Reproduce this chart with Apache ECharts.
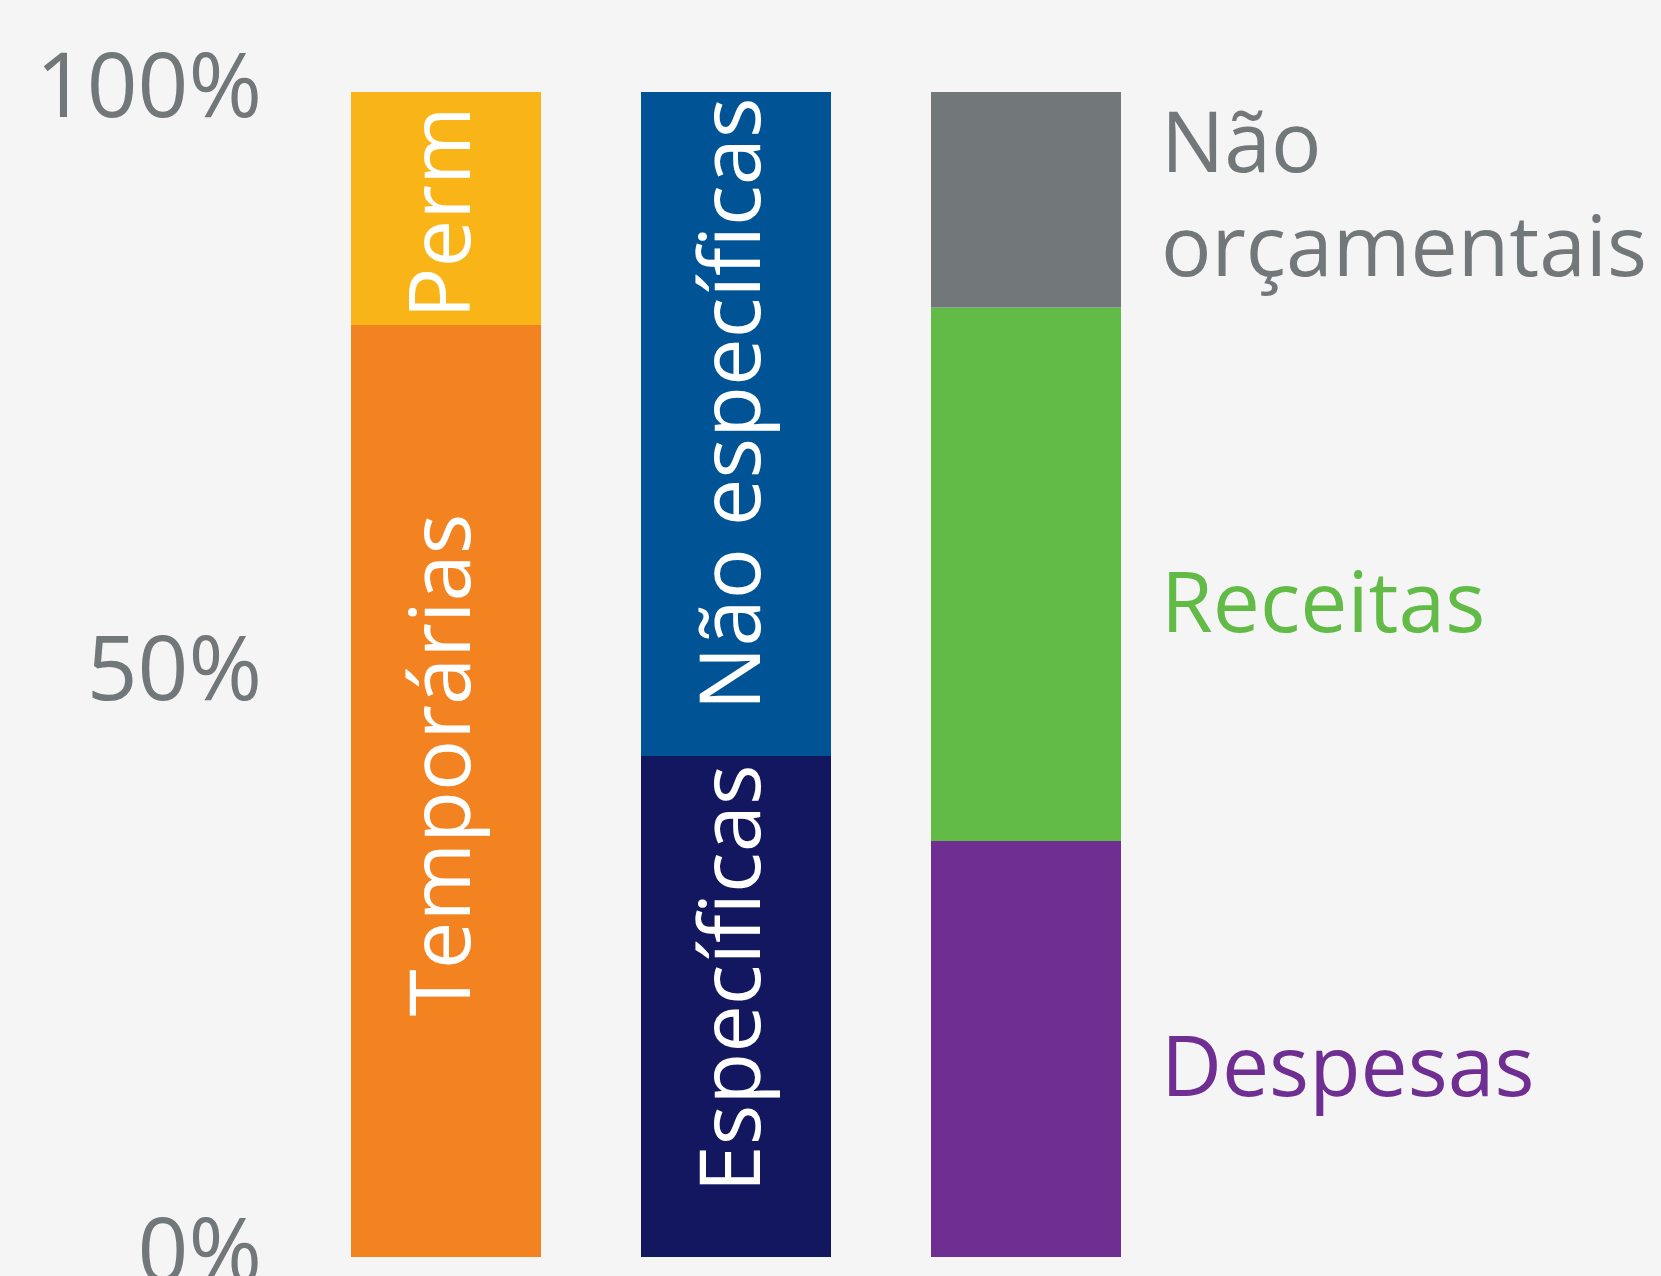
<!DOCTYPE html>
<html>
<head>
<meta charset="utf-8">
<script src="https://cdn.jsdelivr.net/npm/echarts@6/dist/echarts.min.js"></script>
<style>
html,body{margin:0;padding:0;background:#f5f5f5;}
#c{width:1661px;height:1276px;}
</style>
</head>
<body>
<div id="c"></div>
<script>
const categories = ['Duração', 'Afetação', 'Natureza'];
const yTicks = [0, 50, 100];
const temporarias = [80, null, null];
const perm = [20, null, null];
const especificas = [null, 43, null];
const naoEspecificas = [null, 57, null];
const despesas = [null, null, 35.7];
const receitas = [null, null, 45.8];
const naoOrcamentais = [null, null, 18.5];

const FONT = '"Open Sans", "Noto Sans", sans-serif';

function insideLabel(text, shift) {
  return {
    show: true, position: 'inside', rotate: 90, formatter: text,
    color: '#ffffff', fontSize: 85, fontFamily: FONT,
    align: 'center', verticalAlign: 'middle', offset: [shift, 0]
  };
}
function rightLabel(text, color, dy, lh) {
  return {
    show: true, position: 'right', distance: 40, formatter: text,
    color: color, fontSize: 84, fontFamily: FONT, lineHeight: lh || 104,
    align: 'left', verticalAlign: 'middle', offset: [0, dy]
  };
}

const option = {
  backgroundColor: '#f5f5f5',
  animation: false,
  grid: { left: 301, width: 870, top: 92, height: 1165, outerBoundsMode: 'none', containLabel: false },
  xAxis: { type: 'category', data: categories, show: false },
  yAxis: {
    type: 'value', min: yTicks[0], max: yTicks[2], interval: 50,
    axisLine: { show: false }, axisTick: { show: false }, splitLine: { show: false },
    axisLabel: {
      formatter: '{value}%', color: '#72777a', fontSize: 89, fontFamily: FONT,
      margin: 39, verticalAlign: 'middle', padding: [0, 0, 16, 0]
    }
  },
  series: [
    { name: 'Temporárias', type: 'bar', stack: 't', barWidth: 190, data: temporarias,
      itemStyle: { color: '#f38321' }, label: insideLabel('Temporárias', 26) },
    { name: 'Perm', type: 'bar', stack: 't', barWidth: 190, data: perm,
      itemStyle: { color: '#f9b518' }, label: insideLabel('Perm', -4) },
    { name: 'Específicas', type: 'bar', stack: 't', barWidth: 190, data: especificas,
      itemStyle: { color: '#13175f' }, label: insideLabel('Específicas', 28) },
    { name: 'Não específicas', type: 'bar', stack: 't', barWidth: 190, data: naoEspecificas,
      itemStyle: { color: '#005496' }, label: insideLabel('Não específicas', 20) },
    { name: 'Despesas', type: 'bar', stack: 't', barWidth: 190, data: despesas,
      itemStyle: { color: '#6f2e91' }, label: rightLabel('Despesas', '#6f2e91', 23) },
    { name: 'Receitas', type: 'bar', stack: 't', barWidth: 190, data: receitas,
      itemStyle: { color: '#61bb46' }, label: rightLabel('Receitas', '#61bb46', 34) },
    { name: 'Não orçamentais', type: 'bar', stack: 't', barWidth: 190, data: naoOrcamentais,
      itemStyle: { color: '#72777a' }, label: rightLabel('Não\norçamentais', '#72777a', 0) }
  ]
};
const chart = echarts.init(document.getElementById('c'), null, { renderer: 'canvas' });
chart.setOption(option);
</script>
</body>
</html>
